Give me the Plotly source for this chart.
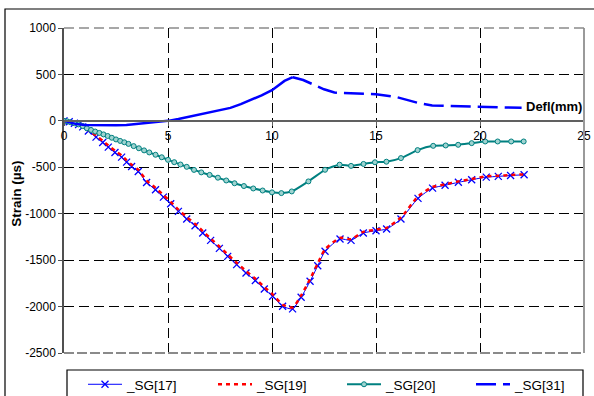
import plotly.graph_objects as go

# Deflection (mm) versus strain (µs) for four strain gauges
sg17_x = [0, 0.25, 0.5, 0.7, 0.9, 1.17, 1.54, 1.86, 2.13, 2.45, 2.77, 3.01, 3.25, 3.57,
          3.97, 4.4, 4.78, 5.13, 5.5, 5.9, 6.3, 6.67, 7.05, 7.47, 7.87, 8.3, 8.75, 9.2,
          9.63, 10.03, 10.51, 10.99, 11.4, 11.83, 12.2, 12.55, 13.27, 13.8, 14.39, 15.0,
          15.51, 16.2, 17.02, 17.72, 18.32, 18.96, 19.6, 20.3, 20.88, 21.47, 22.12]
sg17_y = [0, -10, -25, -40, -65, -110, -175, -233, -283, -341, -391, -444, -491, -545,
          -663, -742, -821, -892, -975, -1057, -1129, -1208, -1287, -1373, -1459, -1548,
          -1638, -1720, -1810, -1889, -1997, -2025, -1900, -1728, -1560, -1405, -1272,
          -1287, -1208, -1183, -1165, -1057, -835, -724, -694, -662, -634, -606, -598,
          -588, -581]

sg19_x = [0, 0.25, 0.5, 0.7, 0.9, 1.17, 1.54, 1.86, 2.13, 2.45, 2.77, 3.01, 3.25, 3.57,
          3.97, 4.4, 4.78, 5.13, 5.5, 5.9, 6.3, 6.67, 7.05, 7.47, 7.87, 8.3, 8.75, 9.2,
          9.63, 10.03, 10.51, 10.99, 11.4, 11.83, 12.2, 12.55, 13.27, 13.8, 14.39, 15.0,
          15.51, 16.2, 17.02, 17.72, 18.32, 18.96, 19.6, 20.3, 20.88, 21.47, 22.12]
sg19_y = [0, -5, -15, -28, -50, -98, -158, -215, -265, -322, -372, -425, -472, -526,
          -643, -722, -800, -872, -955, -1037, -1109, -1188, -1267, -1353, -1439, -1528,
          -1618, -1700, -1790, -1869, -1980, -2010, -1880, -1705, -1535, -1385, -1260,
          -1275, -1195, -1172, -1152, -1040, -815, -712, -684, -652, -626, -598, -592,
          -583, -577]

sg20_x = [0, 0.15, 0.3, 0.5, 0.7, 0.9, 1.1, 1.3, 1.5, 1.7, 1.9, 2.1, 2.3, 2.5, 2.7, 2.9,
          3.1, 3.35, 3.6, 3.85, 4.1, 4.4, 4.7, 5.0, 5.3, 5.6, 5.9, 6.25, 6.6, 7.0, 7.4,
          7.8, 8.2, 8.65, 9.1, 9.55, 10.0, 10.45, 10.95, 11.75, 12.55, 13.25, 13.8, 14.4,
          14.95, 15.5, 16.2, 17.0, 17.75, 18.35, 18.95, 19.6, 20.25, 20.85, 21.5, 22.1]
sg20_y = [0, -5, -14, -25, -38, -56, -80, -98, -115, -130, -146, -163, -182, -200, -216,
          -231, -248, -272, -295, -318, -340, -365, -392, -420, -445, -470, -495, -528,
          -555, -582, -612, -642, -672, -702, -728, -750, -770, -778, -760, -652, -527,
          -472, -485, -464, -446, -440, -401, -315, -269, -265, -258, -240, -222, -222,
          -222, -222]

sg31_x = [0, 0.3, 0.6, 1.0, 1.5, 2.0, 2.5, 3.0, 3.5, 4.0, 4.5, 5.0, 5.5, 6.0, 6.5, 7.0,
          7.5, 8.0, 8.5, 9.0, 9.5, 10.0, 10.3, 10.6, 11.0,
          11.5, 12.0, 12.5, 13.0, 14.0, 15.0, 16.0, 17.0, 17.7, 18.7, 20.0, 21.0, 22.0]
sg31_y = [0, -20, -35, -45, -48, -48, -48, -45, -35, -22, -10, 0, 20, 45, 70, 95, 115,
          140, 180, 225, 275, 330, 380, 430, 470,
          440, 390, 340, 305, 295, 287, 255, 195, 165, 160, 150, 145, 140]

y_ticks = [1000, 500, 0, -500, -1000, -1500, -2000, -2500]
x_ticks = [0, 5, 10, 15, 20, 25]

FONT = "Arial, Liberation Sans, sans-serif"

fig = go.Figure()

fig.add_trace(go.Scatter(
    x=sg17_x, y=sg17_y, name="_SG[17]", mode="lines+markers", legend="legend",
    line=dict(color="#0000ff", width=1, shape="spline", smoothing=0.6),
    marker=dict(symbol="x-thin", size=7, line=dict(color="#0000ff", width=1.3)),
))
fig.add_trace(go.Scatter(
    x=sg19_x, y=sg19_y, name="_SG[19]", mode="lines", legend="legend2",
    line=dict(color="#ff0000", width=2.5, dash="4px,4px", shape="spline", smoothing=0.6),
))
fig.add_trace(go.Scatter(
    x=sg20_x, y=sg20_y, name="_SG[20]", mode="lines+markers", legend="legend3",
    line=dict(color="#008080", width=2, shape="spline", smoothing=0.6),
    marker=dict(symbol="circle", size=5, color="#9fd3d0",
                line=dict(color="#008080", width=1)),
))

# SG[31]: dense readings up to the peak drawn solid, sparse tail drawn dashed
peak = sg31_y.index(max(sg31_y))
fig.add_trace(go.Scatter(
    x=sg31_x[peak:], y=sg31_y[peak:], name="_SG[31]", mode="lines", legend="legend4",
    line=dict(color="#0000ff", width=2.5, dash="20px,7px"),
))
fig.add_trace(go.Scatter(
    x=sg31_x[:peak + 1], y=sg31_y[:peak + 1], mode="lines", showlegend=False,
    line=dict(color="#0000ff", width=2.5),
))


def legend_at(px):
    return dict(
        orientation="h", xref="container", yref="container",
        x=px / 594, y=1 - 369 / 396, xanchor="left", yanchor="top",
        font=dict(family=FONT, size=13.5, color="black"),
        bgcolor="rgba(0,0,0,0)", borderwidth=0, itemwidth=34,
    )


fig.update_layout(
    width=594, height=396,
    margin=dict(l=64, r=10, t=28, b=43, autoexpand=False),
    paper_bgcolor="white", plot_bgcolor="white",
    font=dict(family=FONT, size=12, color="black"),
    showlegend=True,
    legend=legend_at(83),
    legend2=legend_at(213),
    legend3=legend_at(342),
    legend4=legend_at(471),
    xaxis=dict(
        range=[0, 25], tickvals=x_ticks, ticktext=[str(v) for v in x_ticks],
        anchor="free", position=2500 / 3500,
        showline=True, linecolor="#606060", linewidth=1.5,
        ticks="outside", ticklen=4, tickcolor="#606060",
        showgrid=True, gridcolor="black", gridwidth=1, griddash="10px,5px",
        zeroline=False, tickfont=dict(size=12),
    ),
    yaxis=dict(
        range=[-2500, 1000], tickvals=y_ticks, ticktext=[str(v) for v in y_ticks],
        showline=True, linecolor="#505050", linewidth=1.5,
        ticks="outside", ticklen=4, tickcolor="#505050",
        showgrid=True, gridcolor="black", gridwidth=1, griddash="10px,5px",
        zeroline=False, tickfont=dict(size=12),
    ),
    annotations=[
        dict(text="<b>Strain (µs)</b>", xref="paper", yref="paper",
             x=(17 - 64) / 520, y=0.49, textangle=-90, showarrow=False,
             font=dict(family=FONT, size=13.5, color="black"),
             xanchor="center", yanchor="middle"),
        dict(text="<b>Defl(mm)</b>", xref="x", yref="y", x=25, y=150,
             xanchor="right", yanchor="middle", showarrow=False,
             font=dict(family=FONT, size=13, color="black")),
    ],
    shapes=[
        # plot-area border on the right and bottom
        dict(type="line", xref="paper", yref="paper", x0=1, x1=1, y0=0, y1=1,
             line=dict(color="#9a9a9a", width=2), layer="above"),
        dict(type="line", xref="paper", yref="paper", x0=0, x1=1, y0=0, y1=0,
             line=dict(color="#8a8a8a", width=2, dash="10px,3px"), layer="above"),
        dict(type="line", xref="paper", yref="paper", x0=0, x1=1, y0=1, y1=1,
             line=dict(color="#8a8a8a", width=1.5, dash="10px,5px"), layer="above"),
        # chart frame
        dict(type="rect", xref="paper", yref="paper",
             x0=(5 - 64) / 520, x1=1.3, y0=-0.4, y1=(353 - 9) / 325,
             line=dict(color="black", width=1.2), fillcolor="rgba(0,0,0,0)"),
        # legend frame
        dict(type="rect", xref="paper", yref="paper",
             x0=(67 - 64) / 520, x1=(583 - 64) / 520,
             y0=(353 - 420) / 325, y1=(353 - 370) / 325,
             line=dict(color="black", width=1.2), fillcolor="rgba(0,0,0,0)"),
    ],
)

fig.write_html("out.html")
